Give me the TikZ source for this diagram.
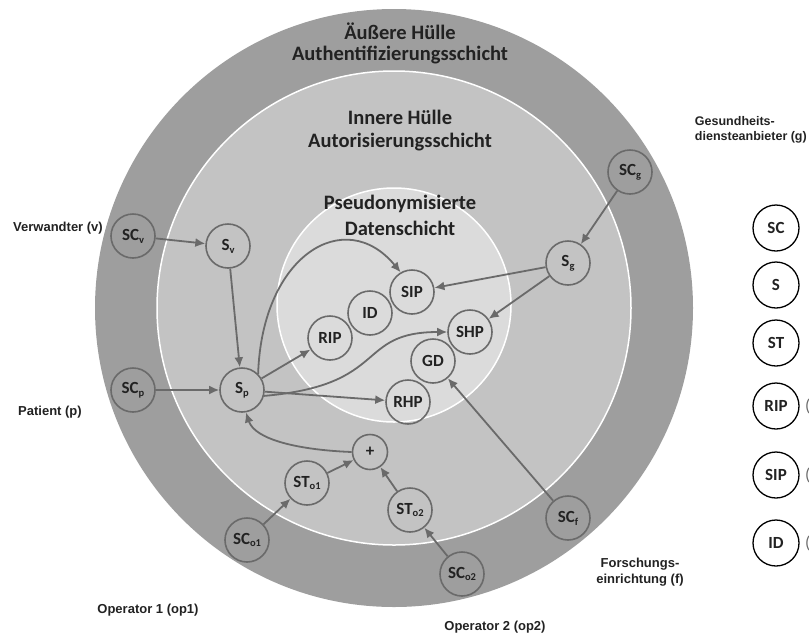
\documentclass[tikz,border=0pt]{standalone}
\usepackage{fontspec}
\setmainfont{Carlito}
\newfontfamily\labfont{Liberation Sans}
\usetikzlibrary{arrows.meta}
\definecolor{ringA}{HTML}{9E9E9E}
\definecolor{ringB}{HTML}{C3C3C3}
\definecolor{ringC}{HTML}{DBDBDB}
\definecolor{edgegray}{HTML}{6A6A6A}
\definecolor{txt}{HTML}{222222}
\newcommand\sbx[1]{\raisebox{-0.35ex}{\fontsize{10.5}{10}\selectfont #1}}
\tikzset{
  nd/.style={circle, draw=edgegray, line width=1.6pt, minimum size=44pt, inner sep=0pt,
    font=\fontsize{17}{17}\selectfont\bfseries, text=txt},
  smallnd/.style={nd, minimum size=35pt},
  lg/.style={circle, draw=black, line width=1.3pt, fill=white, minimum size=46pt, inner sep=0pt,
    font=\fontsize{17}{17}\selectfont\bfseries, text=txt},
  arr/.style={-{Latex[length=10pt,width=9pt]}, line width=1.8pt, draw=edgegray},
  ttl/.style={font=\fontsize{20.5}{21}\selectfont\bfseries, text=txt, inner sep=0pt},
  lab/.style={font=\labfont\fontsize{13}{15.5}\selectfont\bfseries, text=txt, inner sep=0pt},
  paren/.style={font=\fontsize{17}{17}\selectfont, text=edgegray, inner sep=0pt, anchor=west}
}
\begin{document}
\begin{tikzpicture}[x=1pt,y=-1pt]
\useasboundingbox (0,0) rectangle (809,641);
% rings
\fill[ringA] (394,308) circle (299);
\draw[white, line width=1.5pt, fill=ringB] (394,308) circle (237);
\draw[white, line width=1.5pt, fill=ringC] (394,305) circle (117);
% titles
\node[ttl] (t1) at (400,31) {Äußere Hülle};
\node[ttl] (t2) at (400,55) {Authentifizierungsschicht};
\node[ttl] (t3) at (400,117) {Innere Hülle};
\node[ttl] (t4) at (400,142) {Autorisierungsschicht};
\node[ttl] (t5) at (400,204) {Pseudonymisierte};
\node[ttl] (t6) at (400,228) {Datenschicht};
% nodes
\node[nd] (SCv) at (133,236) {SC\sbx{v}};
\node[nd] (Sv) at (228,246) {S\sbx{v}};
\node[nd] (SCp) at (133,390) {SC\sbx{p}};
\node[nd] (Sp) at (242,390) {S\sbx{p}};
\node[nd] (SIP) at (412,292) {SIP};
\node[nd] (ID) at (370,313) {ID};
\node[nd] (RIP) at (330,338) {RIP};
\node[nd] (SHP) at (470,332) {SHP};
\node[nd] (GD) at (433,361) {GD};
\node[nd] (RHP) at (408,402) {RHP};
\node[nd] (Sg) at (568,263) {S\sbx{g}};
\node[nd] (SCg) at (630,172) {SC\sbx{g}};
\node[nd] (SCf) at (568,518) {SC\sbx{f}};
\node[nd] (SCoz) at (462,574) {SC\sbx{o2}};
\node[nd] (SToz) at (410,510) {ST\sbx{o2}};
\node[smallnd] (plus) at (370,452) {+};
\node[nd] (STo) at (307,483) {ST\sbx{o1}};
\node[nd] (SCo) at (247,540) {SC\sbx{o1}};
% edges
\draw[arr] (SCv) -- (Sv);
\draw[arr] (Sv) -- (Sp);
\draw[arr] (SCp) -- (Sp);
\draw[arr] (Sp) -- (RIP);
\draw[arr] (Sp) -- (RHP);
\draw[arr] (Sg) -- (SIP);
\draw[arr] (Sg) -- (SHP);
\draw[arr] (SCg) -- (Sg);
\draw[arr] (SCf) -- (GD);
\draw[arr] (SCo) -- (STo);
\draw[arr] (STo) -- (plus);
\draw[arr] (SToz) -- (plus);
\draw[arr] (SCoz) -- (SToz);
\draw[arr] (Sp.north east) .. controls (262,255) and (345,205) .. (SIP.120);
\draw[arr] (Sp.-15) .. controls (390,385) and (355,332) .. (SHP.west);
\draw[arr] (plus.west) .. controls (300,450) and (255,440) .. (Sp.-80);
% outside labels
\node[lab, anchor=east] (lv) at (103,228) {Verwandter (v)};
\node[lab] (lp) at (50,412) {Patient (p)};
\node[lab, anchor=north east, align=left, font=\labfont\fontsize{12.5}{15}\selectfont\bfseries] (lg) at (807,116) {Gesundheits-\\diensteanbieter (g)};
\node[lab, align=center] (lf) at (640,572) {Forschungs-\\einrichtung (f)};
\node[lab] (lo1) at (148,610) {Operator 1 (op1)};
\node[lab] (lo2) at (495,627) {Operator 2 (op2)};
% legend
\node[lg] (kSC) at (776,228) {SC};
\node[lg] (kS) at (776,285) {S};
\node[lg] (kST) at (776,343) {ST};
\node[lg] (kRIP) at (776,406) {RIP};
\node[lg] (kSIP) at (776,475) {SIP};
\node[lg] (kID) at (776,543) {ID};
\node[paren] (p1) at (805,406) {(};
\node[paren] (p2) at (805,475) {(};
\node[paren] (p3) at (805,543) {(};
\end{tikzpicture}
\end{document}
